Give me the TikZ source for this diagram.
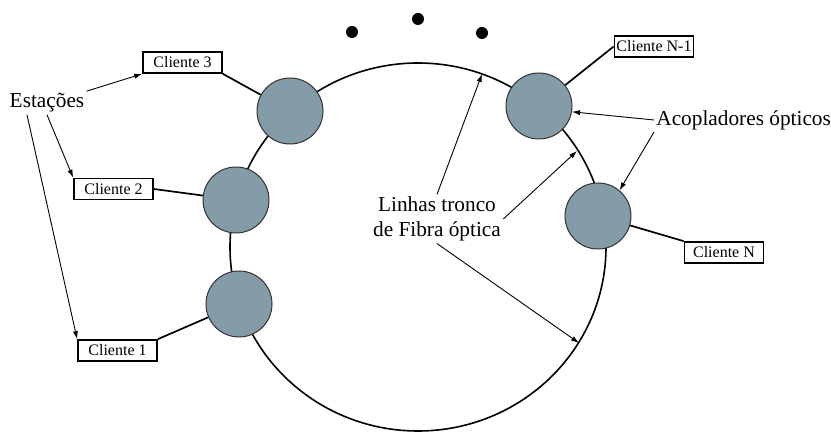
\documentclass[tikz,border=0pt]{standalone}
\usepackage{fontspec}
\setmainfont{Liberation Serif}
\usetikzlibrary{arrows.meta}
\definecolor{acoplador}{RGB}{132,156,168}
\begin{document}
\begin{tikzpicture}[x=0.5pt, y=-0.5pt,
    cliente/.style={draw, line width=0.85pt, fill=white, inner sep=0pt,
        minimum width=39.5pt, minimum height=10.5pt, font=\fontsize{8}{9.6}\selectfont},
    acop/.style={circle, draw=black!80, line width=0.5pt, fill=acoplador,
        minimum size=33pt, inner sep=0pt},
    rotulo/.style={inner sep=1pt, font=\fontsize{10.65}{12.5}\selectfont},
    seta/.style={-{Latex[length=4pt,width=2.6pt]}, line width=0.45pt},
    ligacao/.style={line width=0.85pt}]
    \useasboundingbox (0,0) rectangle (831,432);

    % Anel de fibra
    \draw[line width=0.8pt] (418,247) ellipse [x radius=94pt, y radius=92pt];

    % Pontos
    \foreach \x/\y in {352/32, 418/19, 482/33}
        \fill (\x,\y) circle [radius=3pt];

    % Acopladores
    \node[acop] (a3) at (290,111) {};
    \node[acop] (a2) at (236,200) {};
    \node[acop] (a1) at (239,304) {};
    \node[acop] (aN1) at (539,106) {};
    \node[acop] (aN) at (598,216) {};

    % Clientes
    \node[cliente] (c3) at (182.5,62.5) {Cliente 3};
    \node[cliente] (c2) at (113.5,189) {Cliente 2};
    \node[cliente] (c1) at (117.5,350.5) {Cliente 1};
    \node[cliente] (cN1) at (654,46.5) {Cliente N-1};
    \node[cliente] (cN) at (724,252.5) {Cliente N};

    \draw[ligacao] (c3.south east) -- (a3);
    \draw[ligacao] (c2.east) -- (a2);
    \draw[ligacao] (c1.north east) -- (a1);
    \draw[ligacao] (cN1.west) -- (aN1);
    \draw[ligacao] (aN) -- (cN.north west);

    % Rotulos
    \node[rotulo] (est) at (47,103) {Estações};
    \node[rotulo, anchor=west] (acopl) at (654,120) {Acopladores ópticos};
    \node[rotulo, align=center] (linhas) at (437,219) {Linhas tronco\\de Fibra óptica};

    % Setas
    \draw[seta] (est.north east) -- (c3.south west);
    \draw[seta] (est.south) -- (c2.north west);
    \draw[seta] ([xshift=-10pt]est.south) -- (c1.north west);

    \draw[seta] (acopl.west) -- (aN1.-10);
    \draw[seta] (acopl.south west) -- (aN.50);

    \coordinate (t1) at (482,74);
    \coordinate (t2) at (577,151);
    \coordinate (t3) at (579,343);
    \draw[seta] (linhas.north) -- (t1);
    \draw[seta] (linhas.east) -- (t2);
    \draw[seta] (linhas.south) -- (t3);
\end{tikzpicture}
\end{document}
